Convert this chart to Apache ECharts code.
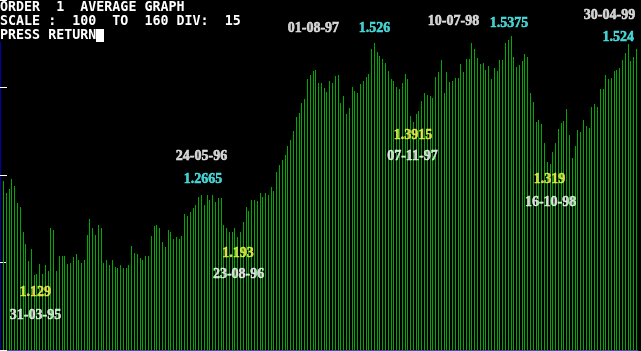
<!DOCTYPE html>
<html><head><meta charset="utf-8">
<script src="https://cdn.jsdelivr.net/npm/echarts@6/dist/echarts.min.js"></script>
<style>html,body{margin:0;padding:0;background:#000;overflow:hidden}#c{width:641px;height:351px}</style>
</head><body><div id="c"></div>
<script>
// ---- texts ----
const headerLines = ['ORDER  1  AVERAGE GRAPH', 'SCALE :  100  TO  160 DIV:  15', 'PRESS RETURN'];
// ---- scale ----
const scaleMin = 1.00, scaleMax = 1.60, scaleDiv = 0.15;
// ---- weekly averages (first week ending 13-01-95) ----
const rates1995 = [1.289,1.270,1.276,1.294,1.282,1.252,1.246,1.202,1.181,1.152,1.174,1.129,1.131,1.147,1.130,1.145,1.135,1.209,1.205,1.135,
  1.162,1.162,1.162,1.147,1.150,1.159,1.164,1.155,1.149,1.154,1.198,1.224,1.210,1.197,1.215,1.209,1.149,1.155,1.145,1.155,
  1.142,1.140,1.145,1.140,1.140,1.145,1.178,1.167,1.164,1.157,1.154];
const rates1996 = [1.161,1.162,1.195,1.212,1.215,1.209,1.185,1.176,1.205,1.203,1.190,1.193,1.191,1.195,1.234,1.229,1.236,1.243,1.248,1.262,
  1.2665,1.248,1.266,1.257,1.265,1.253,1.260,1.260,1.215,1.210,1.202,1.203,1.209,1.193,1.202,1.219,1.245,1.239,1.257,1.258,
  1.255,1.270,1.262,1.270,1.265,1.279,1.272,1.305,1.317,1.325,1.334,1.349];
const rates1997 = [1.360,1.375,1.399,1.406,1.423,1.430,1.464,1.471,1.478,1.480,1.458,1.458,1.449,1.442,1.461,1.458,1.470,1.471,1.423,1.435,
  1.404,1.415,1.451,1.444,1.440,1.456,1.461,1.468,1.473,1.516,1.526,1.511,1.504,1.499,1.492,1.478,1.464,1.461,1.451,1.447,
  1.458,1.473,1.464,1.401,1.3915,1.404,1.409,1.427,1.440,1.437,1.435,1.432];
const rates1998 = [1.468,1.476,1.497,1.440,1.476,1.459,1.461,1.466,1.466,1.490,1.476,1.499,1.499,1.526,1.516,1.500,1.490,1.492,1.480,1.487,
  1.464,1.483,1.478,1.497,1.497,1.526,1.531,1.5375,1.502,1.485,1.488,1.495,1.507,1.502,1.440,1.425,1.391,1.394,1.387,1.355,
  1.322,1.319,1.339,1.355,1.379,1.389,1.392,1.413,1.368,1.329,1.349,1.377];
const rates1999 = [1.373,1.394,1.384,1.380,1.416,1.421,1.416,1.447,1.447,1.471,1.464,1.466,1.478,1.480,1.483,1.497,1.509,1.524,1.495,1.502,1.516];
// ---- annotations ----
const annDates  = ['31-03-95','24-05-96','23-08-96','01-08-97','07-11-97','10-07-98','16-10-98','30-04-99'];
const annValues = [1.129, 1.2665, 1.193, 1.526, 1.3915, 1.5375, 1.319, 1.524];
const annKinds  = ['low','high','low','high','low','high','low','high'];

const rates = [].concat(rates1995, rates1996, rates1997, rates1998, rates1999);
// weekly category labels
const weeks = [];
const t0 = Date.UTC(1995, 0, 13);
for (let i = 0; i < rates.length; i++) {
  const d = new Date(t0 + i * 7 * 86400000);
  const p = n => String(n).padStart(2, '0');
  weeks.push(p(d.getUTCDate()) + '-' + p(d.getUTCMonth() + 1) + '-' + p(d.getUTCFullYear() % 100));
}
// label placement [valueDx, valueDy, dateDx, dateDy] relative to the bar top
const annLayout = [[1,18,1.3,41],[1.5,-15.6,0,-38],[0.3,15.6,0.8,37],[0,-14.7,-61,-15.2],
                   [-0.4,14,-1,35],[-2,-13.5,-57.5,-15],[-0.5,15.6,0.5,38.6],[-10,-7.4,-18.6,-29]];
const YELLOW = '#ffff55', CYAN = '#55ffff', WHITE = '#ffffff', GREEN = '#00aa00';
const annFont = {fontFamily: '"Liberation Serif", serif', fontWeight: 'bold', fontSize: 14, textBorderWidth: 0.5};

const N = rates.length;
const step = 633 / (N - 1);
const gridLeft = 3.5 - step / 2;
const gridWidth = step * N;

const chart = echarts.init(document.getElementById('c'), null, {renderer: 'canvas'});
chart.setOption({
  backgroundColor: '#000',
  animation: false,
  grid: [
    {left: gridLeft, width: gridWidth, top: 0, bottom: 1},
    {left: 0, width: gridWidth, top: 42, bottom: 1}
  ],
  xAxis: [
    {type: 'category', data: weeks, gridIndex: 0,
     axisLine: {show: true, lineStyle: {color: '#4a4ab8', width: 1}},
     axisTick: {show: false}, axisLabel: {show: false}, splitLine: {show: false}},
    {type: 'category', data: weeks, gridIndex: 1, show: false}
  ],
  yAxis: [
    {type: 'value', gridIndex: 0, min: scaleMin, max: scaleMax, interval: scaleDiv, offset: gridLeft,
     axisLine: {show: false},
     axisTick: {show: true, inside: true, length: 7, lineStyle: {color: WHITE, width: 1}},
     axisLabel: {show: false}, splitLine: {show: false}},
    {type: 'value', gridIndex: 1, min: scaleMin, max: scaleMax,
     axisLine: {show: true, lineStyle: {color: '#0000aa', width: 1}},
     axisTick: {show: false}, axisLabel: {show: false}, splitLine: {show: false}}
  ],
  series: [
    {type: 'custom', silent: true,
     data: rates.map((v, i) => [weeks[i], v]),
     encode: {x: 0, y: 1},
     renderItem: function (params, api) {
       const top = api.coord([api.value(0), api.value(1)]);
       const base = api.coord([api.value(0), scaleMin]);
       const x = Math.floor(top[0]);
       const y = Math.round(top[1]);
       return {type: 'rect', shape: {x: x, y: y, width: 1, height: Math.round(base[1]) - y},
               style: {fill: GREEN}};
     }},
    {type: 'scatter', symbolSize: 0, silent: true,
     data: annDates.map((d, i) => {
       const c = annKinds[i] === 'low' ? YELLOW : CYAN;
       return {
         value: [d, annValues[i]],
         label: Object.assign({show: true, position: 'inside', align: 'center', verticalAlign: 'middle',
           offset: [annLayout[i][0], annLayout[i][1]],
           color: c, textBorderColor: c,
           formatter: String(annValues[i])}, annFont)
       };
     }), z: 5},
    {type: 'scatter', symbolSize: 0, silent: true,
     data: annDates.map((d, i) => ({
       value: [d, annValues[i]],
       label: Object.assign({show: true, position: 'inside', align: 'center', verticalAlign: 'middle',
         offset: [annLayout[i][2], annLayout[i][3]],
         color: WHITE, textBorderColor: WHITE, formatter: d}, annFont)
     })), z: 5}
  ],
  graphic: headerLines.map((t, i) => ({
    type: 'text', x: 0, y: 1 + i * 14, z: 10,
    style: {text: t, fill: WHITE, font: 'bold 13.33px "DejaVu Sans Mono", monospace', textVerticalAlign: 'top'}
  })).concat([{type: 'rect', shape: {x: 96, y: 29, width: 8, height: 13}, style: {fill: WHITE}, z: 10}])
});
</script></body></html>
